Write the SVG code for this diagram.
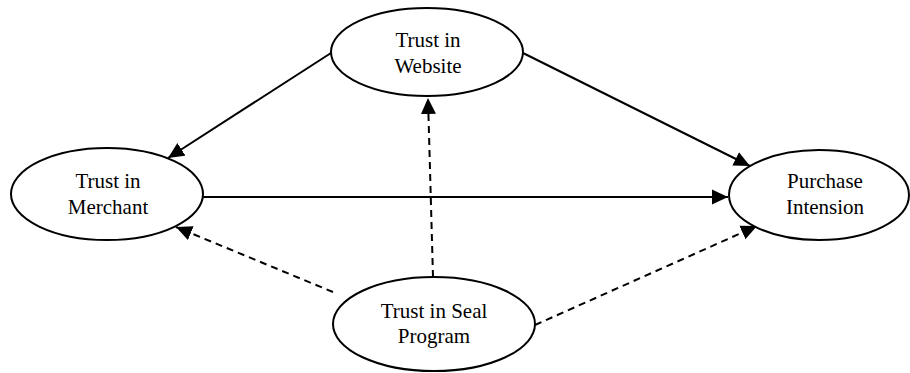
<svg xmlns="http://www.w3.org/2000/svg" width="910" height="373" viewBox="0 0 910 373">
<style>
.node ellipse{fill:#fff;stroke:#000;stroke-width:2}
.node text{font-family:"Liberation Serif","Times New Roman",serif;font-size:21px;fill:#000;text-anchor:middle}
.edge{stroke:#000;stroke-width:2;fill:none;marker-end:url(#ah)}
.dash{stroke-dasharray:7 5}
</style>
<defs>
<marker id="ah" markerUnits="userSpaceOnUse" markerWidth="18" markerHeight="16" refX="16" refY="7.5" orient="auto" viewBox="0 0 18 15">
<path d="M0,0 L16,7.5 L0,15 Z" fill="#000"/>
</marker>
</defs>
<rect width="910" height="373" fill="#fff"/>
<g id="connectors">
<line class="edge" x1="331" y1="53" x2="168" y2="158"/>
<line class="edge" x1="523" y1="53" x2="750" y2="166"/>
<line class="edge" x1="203" y1="197" x2="728" y2="197"/>
<line class="edge dash" x1="433" y1="277" x2="428" y2="98"/>
<line class="edge dash" x1="333" y1="292" x2="176" y2="227"/>
<line class="edge dash" x1="535" y1="325" x2="757" y2="226"/>
</g>
<g id="website" class="node">
<ellipse cx="427" cy="52" rx="96" ry="44"/>
<text x="428" y="47">Trust in</text>
<text x="428" y="73">Website</text>
</g>
<g id="merchant" class="node">
<ellipse cx="107" cy="194" rx="96" ry="46"/>
<text x="108" y="188">Trust in</text>
<text x="108" y="214">Merchant</text>
</g>
<g id="purchase" class="node">
<ellipse cx="819" cy="195" rx="90" ry="45"/>
<text x="825" y="188">Purchase</text>
<text x="825" y="214">Intension</text>
</g>
<g id="seal" class="node">
<ellipse cx="434" cy="324" rx="101" ry="47"/>
<text x="434" y="318">Trust in Seal</text>
<text x="434" y="343">Program</text>
</g>
</svg>
